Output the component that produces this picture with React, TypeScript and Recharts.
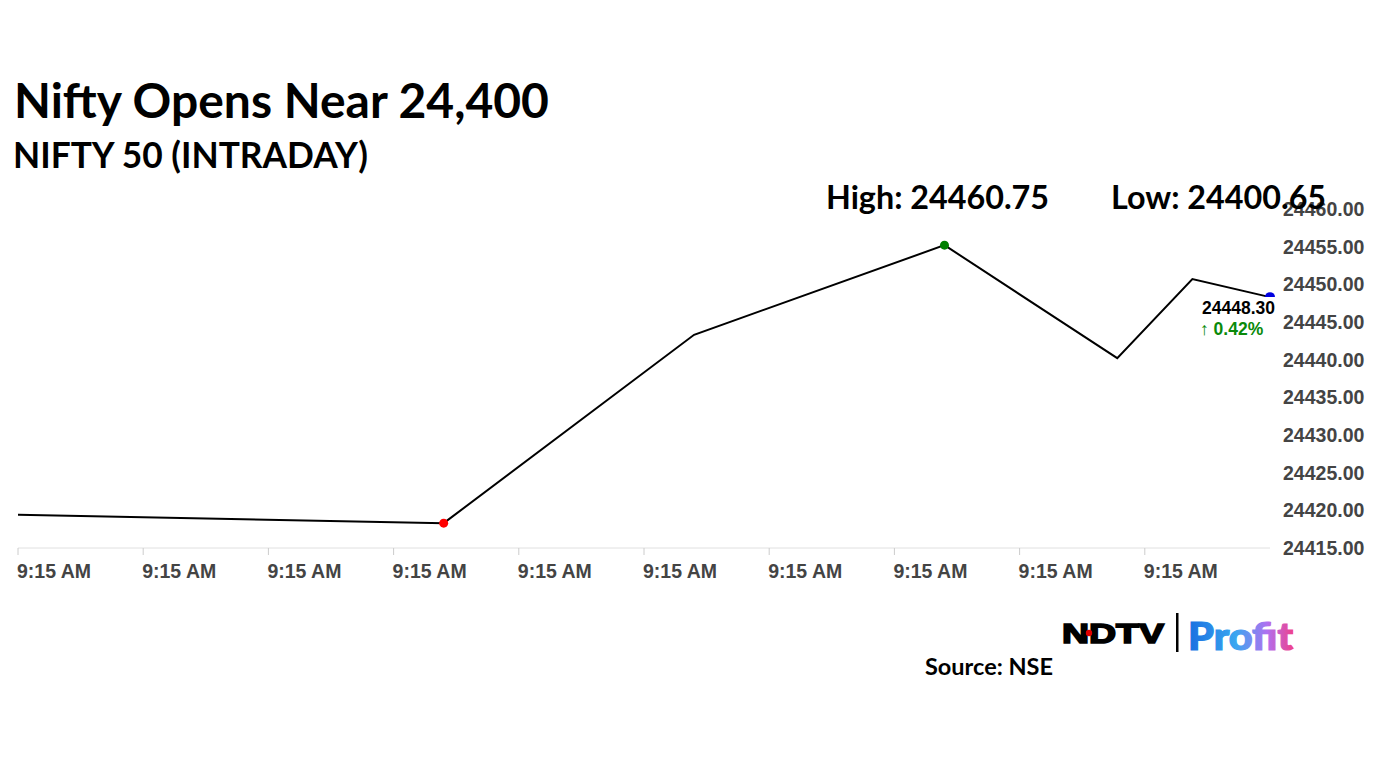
import { LineChart, Line, XAxis, YAxis, ReferenceDot } from "recharts";

const times = [0, 3.4, 5.4, 7.4, 8.78, 9.38, 10];
const values = [24419.4, 24418.3, 24443.3, 24455.2, 24440.2, 24450.7, 24448.3];
const xTicks = [0, 1, 2, 3, 4, 5, 6, 7, 8, 9];
const xTickLabel = "9:15 AM";
const yTicks = [24415, 24420, 24425, 24430, 24435, 24440, 24445, 24450, 24455, 24460];

const lowIdx = 1;
const highIdx = 3;
const lastIdx = values.length - 1;

const data = times.map((t, i) => ({ t, v: values[i] }));

const axisFont = "'Liberation Sans', Arial, sans-serif";
const headFont = "Lato, 'Open Sans', sans-serif";

function XTick(props: any) {
  const { x, y } = props;
  return (
    <g>
      <line x1={x} x2={x} y1={y - 8} y2={y - 1} stroke="#ccc" />
      <text x={x - 1} y={y + 22} textAnchor="start" fontFamily={axisFont} fontWeight={700} fontSize={19.5} fill="#444">
        {xTickLabel}
      </text>
    </g>
  );
}

function YTick(props: any) {
  const { x, y, payload } = props;
  return (
    <text x={x + 5} y={y + 7} textAnchor="start" fontFamily={axisFont} fontWeight={700} fontSize={19.5} fill="#444">
      {Number(payload.value).toFixed(2)}
    </text>
  );
}

export default function App() {
  return (
    <div style={{ position: "absolute", left: 0, top: 0, width: 1382, height: 777, background: "#fff", overflow: "hidden" }}>
      <LineChart width={1382} height={777} data={data} margin={{ top: 209, left: 18, right: 12, bottom: 189 }}>
        <XAxis
          dataKey="t"
          type="number"
          domain={[0, 10]}
          ticks={xTicks}
          interval={0}
          height={40}
          stroke="#e0e0e0"
          tickLine={false}
          tick={<XTick />}
        />
        <YAxis
          orientation="right"
          type="number"
          domain={[24415, 24460]}
          ticks={yTicks}
          interval={0}
          width={100}
          axisLine={false}
          tickLine={false}
          tick={<YTick />}
        />
        <Line type="linear" dataKey="v" stroke="#000" strokeWidth={2} dot={false} isAnimationActive={false} />
        <ReferenceDot x={times[lowIdx]} y={values[lowIdx]} r={4.5} fill="#ff0000" stroke="none" />
        <ReferenceDot x={times[highIdx]} y={values[highIdx]} r={4.5} fill="#008000" stroke="none" />
        <ReferenceDot x={times[lastIdx]} y={values[lastIdx]} r={5} fill="#0000e0" stroke="none" />
      </LineChart>

      <div style={{ position: "absolute", left: 14, top: 74, fontFamily: headFont, fontWeight: 700, fontSize: 48, color: "#000", whiteSpace: "nowrap", lineHeight: 1.1 }}>
        Nifty Opens Near 24,400
      </div>
      <div style={{ position: "absolute", left: 13, top: 136, fontFamily: headFont, fontWeight: 700, fontSize: 35.3, color: "#000", whiteSpace: "nowrap", lineHeight: 1.1 }}>
        NIFTY 50 (INTRADAY)
      </div>
      <div style={{ position: "absolute", left: 826, top: 179, fontFamily: headFont, fontWeight: 700, fontSize: 32.3, color: "#000", whiteSpace: "nowrap", lineHeight: 1.1 }}>
        High: 24460.75
      </div>
      <div style={{ position: "absolute", left: 1111, top: 179, fontFamily: headFont, fontWeight: 700, fontSize: 32.3, color: "#000", whiteSpace: "nowrap", lineHeight: 1.1 }}>
        Low: 24400.65
      </div>
      <div style={{ position: "absolute", left: 1198, top: 297, padding: "2px 4px 0 4px", background: "#fff", fontFamily: axisFont, fontWeight: 700, fontSize: 17.5, color: "#000", whiteSpace: "nowrap", lineHeight: 1.1 }}>
        24448.30
      </div>
      <div style={{ position: "absolute", left: 1200, top: 320, fontFamily: axisFont, fontWeight: 700, fontSize: 17.5, color: "#0a8a0a", whiteSpace: "nowrap", lineHeight: 1.1 }}>
        ↑ 0.42%
      </div>

      <svg style={{ position: "absolute", left: 1055, top: 605 }} width={250} height={55}>
        <defs>
          <linearGradient id="profitGrad" x1="0" x2="1" y1="0" y2="0">
            <stop offset="0%" stopColor="#1a6fe0" />
            <stop offset="45%" stopColor="#3aa6f0" />
            <stop offset="75%" stopColor="#b070f0" />
            <stop offset="100%" stopColor="#f0408a" />
          </linearGradient>
        </defs>
        <text x={7} y={38} fontFamily={axisFont} fontWeight={900} fontSize={27} fill="#000" stroke="#000" strokeWidth={1.6} textLength={102} lengthAdjust="spacingAndGlyphs">
          NDTV
        </text>
        <circle cx={34} cy={28} r={3.2} fill="#e00000" />
        <rect x={121} y={8} width={2.5} height={39} fill="#000" />
        <text x={133} y={45} fontFamily={headFont} fontWeight={900} fontSize={38} fill="url(#profitGrad)" stroke="url(#profitGrad)" strokeWidth={1.2} textLength={105} lengthAdjust="spacingAndGlyphs">
          Profit
        </text>
      </svg>
      <div style={{ position: "absolute", left: 925, top: 654, fontFamily: headFont, fontWeight: 700, fontSize: 23.5, color: "#000", whiteSpace: "nowrap", lineHeight: 1.1 }}>
        Source: NSE
      </div>
    </div>
  );
}
